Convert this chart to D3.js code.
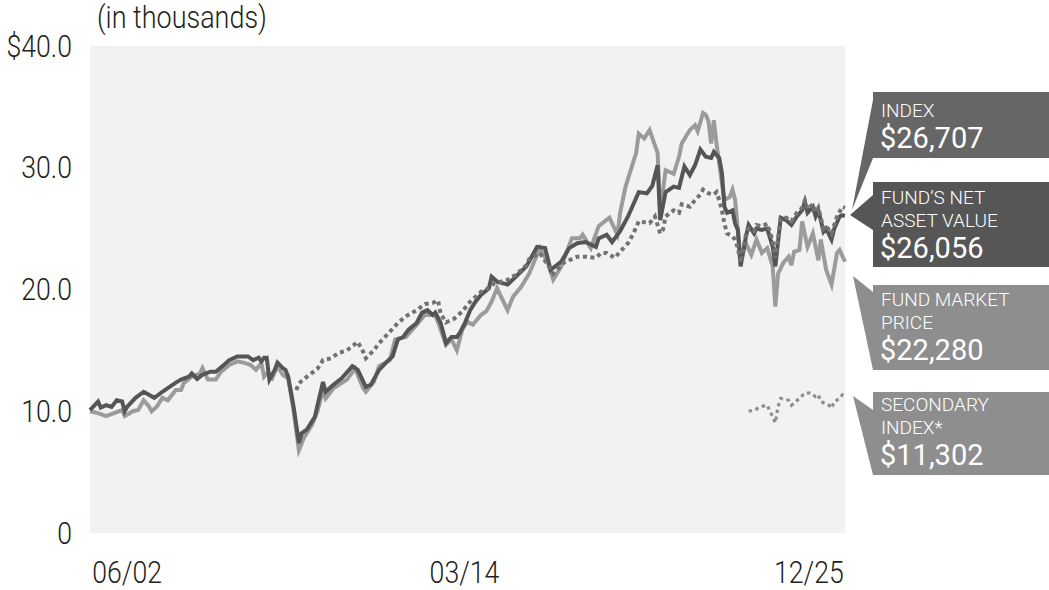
<!DOCTYPE html>
<html>
<head>
<meta charset="utf-8">
<script src="https://cdn.jsdelivr.net/npm/d3@7/dist/d3.min.js"></script>
<style>
  html, body { margin: 0; padding: 0; background: #fff; }
  svg { display: block; }
  text { font-family: Roboto, "Liberation Sans", sans-serif; }
</style>
</head>
<body>
<svg id="chart" width="1049" height="590"></svg>
<script>
// ---------------- DATA ----------------
const yTickValues = [0, 10, 20, 30, 40];
const yTickLabels = ["0", "10.0", "20.0", "30.0", "$40.0"];
const xTickDates = ["2002-06", "2014-03", "2025-12"];
const xTickLabels = ["06/02", "03/14", "12/25"];
const unitLabel = "(in thousands)";

const navSeries = [
["2002-06",10.1],["2002-09",10.8],["2002-10",10.3],["2002-12",10.5],["2003-02",10.35],["2003-04",10.9],["2003-06",10.8],["2003-07",10.0],["2003-08",10.4],["2003-11",11.1],
["2004-02",11.6],["2004-06",11.1],["2004-09",11.6],["2004-11",11.9],["2005-02",12.35],["2005-04",12.6],["2005-07",12.85],["2005-08",13.1],["2005-10",12.65],["2005-12",13.0],
["2006-03",13.25],["2006-05",13.25],["2006-08",13.8],["2006-10",14.2],["2007-01",14.5],["2007-05",14.5],["2007-07",14.2],["2007-09",14.4],["2007-10",14.1],["2007-11",14.4],["2007-12",14.4],
["2008-01",12.6],["2008-03",13.4],["2008-04",14.0],["2008-06",13.55],["2008-07",13.4],["2008-08",12.85],["2008-10",10.4],["2008-12",7.4],["2009-01",8.2],["2009-03",8.5],["2009-06",9.55],["2009-07",10.5],["2009-09",12.4],["2009-10",11.6],
["2010-01",12.2],["2010-04",12.7],["2010-08",13.7],["2010-10",13.4],["2011-01",12.0],["2011-03",12.2],["2011-06",13.4],["2011-09",14.1],["2011-11",14.5],
["2012-01",15.9],["2012-03",16.1],["2012-05",16.7],["2012-08",17.25],["2012-10",18.1],["2012-12",18.3],["2013-02",17.9],["2013-03",18.1],["2013-05",17.25],["2013-07",15.6],["2013-09",16.1],["2013-11",16.1],["2013-12",16.4],
["2014-02",17.25],["2014-04",18.3],["2014-06",19.0],["2014-08",19.55],["2014-11",20.1],["2014-12",21.05],["2015-02",20.65],["2015-06",20.4],["2015-09",21.05],
["2016-01",21.9],["2016-05",23.5],["2016-08",23.4],["2016-10",21.6],["2017-02",22.3],["2017-05",23.4],["2017-08",23.8],["2017-11",23.9],
["2018-03",23.5],["2018-04",24.2],["2018-07",24.5],["2018-09",23.9],["2018-12",24.8],["2019-03",26.0],["2019-05",27.0],["2019-07",28.0],["2019-10",27.9],["2019-12",28.5],
["2020-02",30.2],["2020-03",25.7],["2020-05",28.0],["2020-08",28.45],["2020-10",28.35],["2020-12",30.1],["2021-02",29.4],["2021-04",30.2],["2021-06",31.5],["2021-08",30.9],["2021-10",30.8],["2021-11",31.3],
["2022-01",30.8],["2022-02",29.55],["2022-03",26.8],["2022-04",26.3],["2022-06",26.5],["2022-07",25.4],["2022-08",24.9],["2022-09",21.9],["2022-11",24.35],["2022-12",25.3],
["2023-02",24.6],["2023-03",25.0],["2023-05",24.9],["2023-07",25.0],["2023-09",23.5],["2023-10",21.9],["2023-12",25.9],
["2024-02",25.7],["2024-04",25.3],["2024-06",26.0],["2024-08",26.5],["2024-09",27.2],["2024-10",26.3],["2024-12",26.8],
["2025-01",26.0],["2025-02",26.5],["2025-04",24.75],["2025-05",25.0],["2025-07",24.1],["2025-08",25.0],["2025-10",26.0],["2025-11",26.1],["2025-12",26.056]
];

const marketPriceSeries = [
["2002-06",10.0],["2002-09",9.85],["2002-12",9.6],["2003-03",9.85],["2003-06",10.1],["2003-07",9.6],["2003-10",10.0],["2003-12",10.1],
["2004-02",10.9],["2004-04",10.4],["2004-05",10.0],["2004-07",10.4],["2004-09",11.1],["2004-11",10.9],["2005-02",11.75],["2005-04",11.75],["2005-05",12.3],["2005-08",12.85],["2005-11",13.1],["2005-12",13.55],
["2006-02",12.6],["2006-05",12.6],["2006-07",13.25],["2006-10",13.8],["2007-01",14.1],["2007-04",13.95],["2007-06",13.8],["2007-08",13.4],["2007-10",13.95],["2007-11",12.85],["2007-12",13.1],
["2008-02",12.7],["2008-04",13.7],["2008-06",13.0],["2008-08",12.7],["2008-10",10.1],["2008-12",6.8],["2009-02",7.9],["2009-05",8.9],["2009-07",10.0],["2009-09",11.75],["2009-10",11.05],
["2010-01",11.9],["2010-06",12.6],["2010-09",13.5],["2010-12",11.9],["2011-01",11.6],["2011-04",12.4],["2011-06",13.7],["2011-10",14.2],["2011-12",15.9],
["2012-04",16.1],["2012-08",17.1],["2012-11",17.9],["2013-03",17.9],["2013-05",16.7],["2013-07",15.45],["2013-09",15.9],["2013-11",15.0],
["2014-01",16.7],["2014-03",17.35],["2014-05",17.1],["2014-08",17.9],["2014-10",18.2],["2014-12",19.0],["2015-02",20.1],["2015-06",18.3],["2015-08",19.4],["2015-11",20.2],
["2016-02",21.3],["2016-06",23.4],["2016-09",22.2],["2016-11",20.8],["2017-02",21.9],["2017-06",24.2],["2017-09",24.2],["2017-10",24.5],
["2018-01",23.4],["2018-04",25.2],["2018-08",25.9],["2018-11",24.5],["2018-12",26.3],["2019-02",28.45],["2019-04",29.8],["2019-06",31.2],["2019-07",32.8],["2019-09",32.4],["2019-11",33.1],
["2020-02",31.2],["2020-03",26.3],["2020-05",29.8],["2020-08",29.5],["2020-10",30.9],["2020-11",32.0],["2021-02",33.1],["2021-04",33.5],["2021-05",33.0],["2021-07",34.5],["2021-08",34.35],["2021-09",33.8],["2021-10",32.0],["2021-11",33.9],["2021-12",32.0],
["2022-02",28.7],["2022-03",27.35],["2022-05",27.6],["2022-06",28.2],["2022-07",27.35],["2022-09",22.4],["2022-11",23.8],
["2023-01",22.85],["2023-03",24.1],["2023-05",23.0],["2023-07",23.4],["2023-09",21.9],["2023-10",18.6],["2023-11",21.3],
["2024-01",22.2],["2024-03",22.7],["2024-04",22.0],["2024-05",23.1],["2024-07",23.25],["2024-08",25.6],["2024-10",23.5],["2024-12",24.6],
["2025-02",22.4],["2025-03",24.1],["2025-05",21.6],["2025-07",20.4],["2025-09",23.0],["2025-10",23.25],["2025-12",22.28]
];

const indexSeries = [
["2008-11",11.75],["2008-12",12.3],["2009-04",13.0],["2009-07",13.5],["2009-09",14.2],["2009-12",14.35],["2010-03",14.8],["2010-06",15.0],["2010-10",15.7],["2010-12",14.9],
["2011-01",14.35],["2011-04",15.0],["2011-06",15.6],["2011-09",16.3],["2012-01",17.25],["2012-04",17.8],["2012-08",18.3],["2012-11",18.8],["2013-02",18.9],["2013-04",19.1],["2013-05",18.0],["2013-07",17.3],["2013-10",17.6],
["2014-01",18.2],["2014-04",19.0],["2014-08",19.8],["2014-10",20.0],["2015-01",20.5],["2015-06",20.8],["2015-09",21.2],["2016-01",22.0],["2016-02",22.5],["2016-06",23.0],["2016-07",22.7],["2016-11",21.3],
["2017-03",22.2],["2017-08",22.7],["2017-11",22.7],["2018-03",22.6],["2018-05",23.0],["2018-07",23.0],["2018-10",22.6],["2018-12",23.1],["2019-03",23.8],["2019-05",24.6],["2019-07",25.6],["2019-11",25.45],
["2020-01",26.0],["2020-03",24.6],["2020-04",24.9],["2020-05",26.0],["2020-08",26.5],["2020-10",26.3],["2020-11",27.0],["2021-02",26.8],["2021-04",27.35],["2021-06",27.8],["2021-07",28.2],["2021-09",27.9],["2021-11",27.8],["2021-12",28.0],
["2022-01",27.35],["2022-02",26.5],["2022-03",25.4],["2022-04",24.6],["2022-06",24.35],["2022-07",24.1],["2022-08",23.4],["2022-09",22.2],["2022-11",24.5],["2022-12",25.0],
["2023-02",24.8],["2023-03",25.3],["2023-05",25.2],["2023-07",25.4],["2023-09",24.0],["2023-10",22.6],["2023-12",25.8],
["2024-02",25.9],["2024-04",25.6],["2024-06",26.3],["2024-08",26.7],["2024-09",27.3],["2024-10",26.6],["2024-12",27.0],
["2025-01",26.3],["2025-02",26.7],["2025-04",25.0],["2025-05",25.2],["2025-07",24.6],["2025-09",26.0],["2025-11",26.8],["2025-12",26.707]
];

const secondaryIndexSeries = [
["2022-12",10.0],["2023-02",10.1],["2023-05",10.4],["2023-07",10.5],["2023-08",10.0],["2023-09",9.55],["2023-10",9.05],["2023-11",10.4],["2023-12",11.05],
["2024-03",10.9],["2024-04",10.5],["2024-07",11.05],["2024-09",11.5],["2024-11",11.5],["2025-01",11.2],["2025-02",11.35],["2025-03",10.8],["2025-06",10.5],["2025-07",10.25],["2025-08",10.8],["2025-10",11.05],["2025-11",11.35],["2025-12",11.302]
];

const legendLabels = [["INDEX"], ["FUND\u2019S NET", "ASSET VALUE"], ["FUND MARKET", "PRICE"], ["SECONDARY", "INDEX*"]];
const legendValues = ["$26,707", "$26,056", "$22,280", "$11,302"];

// ---------------- LAYOUT ----------------
const svg = d3.select("#chart");
const plot = { left: 90, right: 845, top: 46, bottom: 533 };
const parse = d3.timeParse("%Y-%m");
const axisColor = "#231f20";

const x = d3.scaleTime()
  .domain([parse("2002-06"), parse("2025-12")])
  .range([plot.left, plot.right]);
const y = d3.scaleLinear().domain([0, 40]).range([plot.bottom, plot.top]);

svg.append("rect")
  .attr("x", plot.left).attr("y", plot.top)
  .attr("width", plot.right - plot.left).attr("height", plot.bottom - plot.top)
  .attr("fill", "#f1f2f2");

// Y axis
const yAxis = d3.axisLeft(y)
  .tickValues(yTickValues)
  .tickFormat((d, i) => yTickLabels[i])
  .tickSize(0).tickPadding(0);
const gy = svg.append("g").attr("transform", "translate(72,0)").call(yAxis);
gy.select(".domain").remove();
gy.selectAll("text")
  .attr("x", 0).attr("dy", null).attr("y", 10)
  .attr("transform", "scale(0.86,1)")
  .attr("fill", axisColor)
  .style("font-size", "31px").style("font-weight", 300)
  .style("font-family", "Roboto, sans-serif");

// X axis
const xAxis = d3.axisBottom(x)
  .tickValues(xTickDates.map(parse))
  .tickFormat((d, i) => xTickLabels[i])
  .tickSize(0).tickPadding(0);
const gx = svg.append("g").attr("transform", `translate(0,${plot.bottom})`).call(xAxis);
gx.select(".domain").remove();
gx.selectAll("text")
  .attr("y", 50).attr("dy", null)
  .attr("text-anchor", (d, i) => i === 0 ? "start" : (i === xTickDates.length - 1 ? "end" : "middle"))
  .attr("x", (d, i) => i === 0 ? 2 : (i === xTickDates.length - 1 ? -2 : -4))
  .attr("transform", "scale(0.86,1)")
  .attr("fill", axisColor)
  .style("font-size", "31px").style("font-weight", 300)
  .style("font-family", "Roboto, sans-serif");

svg.append("text")
  .attr("transform", "translate(97,28) scale(0.87,1)")
  .attr("fill", axisColor)
  .style("font-size", "31px").style("font-weight", 300)
  .text(unitLabel);

// Lines
const line = d3.line().x(d => x(parse(d[0]))).y(d => y(d[1]));

svg.append("path").datum(marketPriceSeries)
  .attr("d", line).attr("fill", "none")
  .attr("stroke", "#9b9b9b").attr("stroke-width", 4);

svg.append("path").datum(navSeries)
  .attr("d", line).attr("fill", "none")
  .attr("stroke", "#555555").attr("stroke-width", 4);

svg.append("path").datum(indexSeries)
  .attr("d", line).attr("fill", "none")
  .attr("stroke", "#727272").attr("stroke-width", 4)
  .attr("stroke-dasharray", "4,3.5");

svg.append("path").datum(secondaryIndexSeries)
  .attr("d", line).attr("fill", "none")
  .attr("stroke", "#8e8e8e").attr("stroke-width", 3.2)
  .attr("stroke-dasharray", "3.5,3.5");

// Callout legend
const boxLeft = 873, boxRight = 1049, textX = 881;
const boxColors = ["#666667", "#565656", "#8e8e8f", "#8e8e8f"];
const boxLayout = [
  { top: 92, h: 66, firstBase: 25, tail: [[873, 100], [873, 158], [852, 210]] },
  { top: 182, h: 85, firstBase: 22, tail: [[873, 195], [873, 230], [850, 215]] },
  { top: 285, h: 85, firstBase: 21, tail: [[853, 276], [873, 292], [873, 370]] },
  { top: 392, h: 83, firstBase: 19, tail: [[853, 396], [873, 410], [873, 475]] }
];

legendLabels.forEach((lines, i) => {
  const b = boxLayout[i];
  const g = svg.append("g");
  g.append("polygon")
    .attr("points", b.tail.map(p => p.join(",")).join(" "))
    .attr("fill", boxColors[i]);
  g.append("rect")
    .attr("x", boxLeft).attr("y", b.top)
    .attr("width", boxRight - boxLeft).attr("height", b.h)
    .attr("fill", boxColors[i]);
  lines.forEach((t, j) => {
    g.append("text")
      .attr("x", textX).attr("y", b.top + b.firstBase + j * 23)
      .attr("fill", "#fff")
      .style("font-size", "19px").style("font-weight", 300)
      .text(t);
  });
  g.append("text")
    .attr("x", textX - 1).attr("y", b.top + b.firstBase + (lines.length - 1) * 23 + 31)
    .attr("fill", "#fff")
    .style("font-size", "29px").style("font-weight", 400)
    .text(legendValues[i]);
});
</script>
</body>
</html>
